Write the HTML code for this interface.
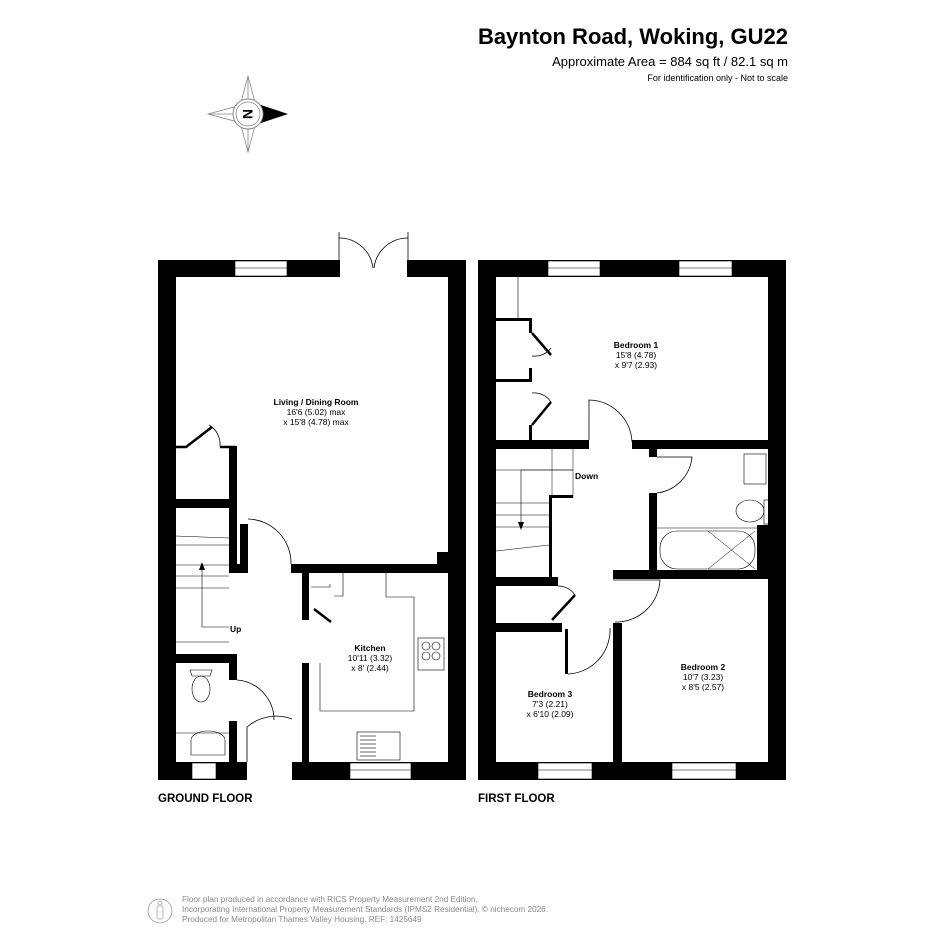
<!DOCTYPE html>
<html><head><meta charset="utf-8"><style>
html,body{margin:0;padding:0;background:#fff;}
svg{display:block;font-family:"Liberation Sans",Arial,sans-serif;}
</style></head><body>
<svg width="945" height="945" viewBox="0 0 945 945" xmlns="http://www.w3.org/2000/svg">
<rect width="945" height="945" fill="#fff"/>
<!-- Header -->
<text x="788" y="44" text-anchor="end" font-size="22" font-weight="bold" fill="#000">Baynton Road, Woking, GU22</text>
<text x="788" y="66" text-anchor="end" font-size="13" fill="#000">Approximate Area = 884 sq ft / 82.1 sq m</text>
<text x="788" y="81" text-anchor="end" font-size="9" fill="#000">For identification only - Not to scale</text>
<!-- Compass -->
<g stroke="#888" stroke-width="0.8" fill="#fff">
<polygon points="248,76 256,106 248,114 240,106"/>
<polygon points="248,152 256,122 248,114 240,122"/>
<polygon points="208,114 238,106 248,114 238,122"/>
<line x1="248" y1="76" x2="248" y2="152"/><line x1="208" y1="114" x2="248" y2="114"/>
</g>
<polygon points="288,114 258,104 262,114 258,124" fill="#000"/>
<circle cx="248" cy="114" r="15" fill="#fff" stroke="#888" stroke-width="1"/>
<circle cx="248" cy="114" r="12" fill="none" stroke="#888" stroke-width="0.8"/>
<text x="248" y="119" text-anchor="middle" font-size="14" font-weight="bold" transform="rotate(90 248 114)">N</text>

<!-- GROUND FLOOR walls -->
<g fill="#000">
<rect x="158" y="260" width="18" height="520"/>
<rect x="448" y="260" width="18" height="520"/>
<rect x="158" y="260" width="182" height="17"/>
<rect x="407" y="260" width="59" height="17"/>
<rect x="158" y="762" width="308" height="18"/>
<rect x="291" y="564" width="157" height="9"/>
<rect x="437" y="552" width="11" height="14"/>
<rect x="176" y="499" width="61" height="9"/>
<rect x="229" y="446" width="8" height="127"/>
<rect x="229" y="564" width="19" height="9"/>
<rect x="240" y="524" width="8" height="45"/>
<rect x="302" y="573" width="7" height="47"/>
<rect x="302" y="663" width="7" height="100"/>
<rect x="176" y="654" width="61" height="9"/>
<rect x="229" y="654" width="8" height="26"/>
<rect x="229" y="721" width="8" height="42"/>
</g>
<!-- openings ground -->
<rect x="235" y="261" width="52" height="15" fill="#fff" stroke="#000" stroke-width="0.6"/>
<line x1="235" y1="268" x2="287" y2="268" stroke="#000" stroke-width="0.5"/>
<rect x="192" y="763" width="24" height="16" fill="#fff" stroke="#000" stroke-width="0.6"/>
<rect x="350" y="763" width="61" height="16" fill="#fff" stroke="#000" stroke-width="0.6"/>
<line x1="350" y1="770" x2="411" y2="770" stroke="#000" stroke-width="0.5"/>
<rect x="247" y="761" width="45" height="20" fill="#fff"/>
<g fill="none" stroke="#000" stroke-width="0.8">
<line x1="339" y1="232" x2="339" y2="277"/><line x1="408" y1="232" x2="408" y2="277"/>
<path d="M339,238 A34,34 0 0,1 373,268"/><path d="M408,238 A34,34 0 0,0 374,268"/>
<path d="M248,519 A44,44 0 0,1 291,564"/>
<path d="M237,680 A40,40 0 0,1 274,720"/>
<path d="M247,762 L247,727 A45,45 0 0,1 292,719"/>
<path d="M209,425 A22,22 0 0,1 220,446"/>
<path d="M311,587 L330,587 L330,584" stroke-width="0.6"/>
<path d="M343,564 L343,596 L334,596" stroke-width="0.6"/>
<path d="M386,573 L386,597 L414,597 L414,711 L320,711 L320,663" stroke-width="0.6"/>
<line x1="176" y1="536" x2="229" y2="538" stroke-width="0.5"/>
<line x1="176" y1="545" x2="229" y2="545" stroke-width="0.5"/>
<line x1="176" y1="565" x2="229" y2="565" stroke-width="0.5"/>
<line x1="176" y1="576" x2="229" y2="576" stroke-width="0.5"/>
<line x1="176" y1="588" x2="229" y2="588" stroke-width="0.5"/>
<path d="M229,627 L202,627 L202,567" stroke-width="0.6"/>
<line x1="176" y1="642" x2="229" y2="642" stroke-width="0.5"/>
<line x1="176" y1="733" x2="229" y2="733" stroke-width="0.5"/>
<rect x="418" y="638" width="26" height="32" stroke-width="0.6"/>
<circle cx="426" cy="646" r="4" stroke-width="0.6"/><circle cx="436" cy="646" r="4" stroke-width="0.6"/>
<circle cx="426" cy="656" r="4" stroke-width="0.6"/><circle cx="436" cy="656" r="4" stroke-width="0.6"/>
<rect x="357" y="732" width="43" height="28" stroke-width="0.6"/>
<ellipse cx="201" cy="689" rx="9" ry="13" stroke-width="0.6"/>
<path d="M190,670 L212,670 L210,676 L192,676 Z" stroke-width="0.6"/>
<path d="M191,755 L191,740 A17,9 0 0,1 225,740 L225,755 Z" stroke-width="0.6"/>
</g>
<path d="M176,447 L186,447 L212,427" fill="none" stroke="#000" stroke-width="2.5"/>
<path d="M220,447 L236,447" fill="none" stroke="#000" stroke-width="2.5"/>
<path d="M314,609 L331,622" fill="none" stroke="#000" stroke-width="2.5"/>
<g stroke="#000" stroke-width="0.6">
<line x1="360" y1="736" x2="376" y2="736"/><line x1="360" y1="740" x2="376" y2="740"/><line x1="360" y1="744" x2="376" y2="744"/><line x1="360" y1="748" x2="376" y2="748"/><line x1="360" y1="752" x2="376" y2="752"/><line x1="360" y1="756" x2="376" y2="756"/>
</g>
<polygon points="202,562 199,570 205,570" fill="#000"/>

<!-- FIRST FLOOR walls -->
<g fill="#000">
<rect x="478" y="260" width="18" height="520"/>
<rect x="768" y="260" width="18" height="520"/>
<rect x="478" y="260" width="308" height="17"/>
<rect x="478" y="762" width="308" height="18"/>
<rect x="496" y="440" width="93" height="9"/>
<rect x="632" y="440" width="136" height="9"/>
<rect x="649" y="449" width="8" height="8"/>
<rect x="649" y="493" width="8" height="80"/>
<rect x="613" y="570" width="155" height="9"/>
<rect x="757" y="525" width="11" height="48"/>
<rect x="496" y="318" width="36" height="3"/>
<rect x="496" y="379" width="36" height="3"/>
<rect x="529" y="318" width="3" height="15"/>
<rect x="529" y="368" width="3" height="14"/>
<rect x="529" y="425" width="3" height="15"/>
<rect x="549" y="495" width="3" height="82"/>
<rect x="549" y="495" width="24" height="3"/>
<rect x="496" y="577" width="62" height="9"/>
<rect x="496" y="623" width="66" height="9"/>
<rect x="613" y="623" width="9" height="140"/>
<rect x="565" y="629" width="3" height="45"/>
</g>
<rect x="548" y="261" width="52" height="15" fill="#fff" stroke="#000" stroke-width="0.6"/>
<line x1="548" y1="268" x2="600" y2="268" stroke="#000" stroke-width="0.5"/>
<rect x="679" y="261" width="53" height="15" fill="#fff" stroke="#000" stroke-width="0.6"/>
<line x1="679" y1="268" x2="732" y2="268" stroke="#000" stroke-width="0.5"/>
<rect x="538" y="763" width="54" height="16" fill="#fff" stroke="#000" stroke-width="0.6"/>
<line x1="538" y1="770" x2="592" y2="770" stroke="#000" stroke-width="0.5"/>
<rect x="672" y="763" width="64" height="16" fill="#fff" stroke="#000" stroke-width="0.6"/>
<line x1="672" y1="770" x2="736" y2="770" stroke="#000" stroke-width="0.5"/>
<g fill="none" stroke="#000" stroke-width="0.8">
<line x1="518" y1="277" x2="518" y2="318" stroke-width="0.6"/>
<path d="M589,440 L589,400 A44,44 0 0,1 632,442"/>
<path d="M532,356 A20,20 0 0,0 551,348"/>
<path d="M532,393 A20,20 0 0,1 551,402"/>
<path d="M657,457 L692,457 A40,40 0 0,1 657,493"/>
<path d="M613,580 L660,580 A44,44 0 0,1 615,622"/>
<path d="M558,586 A20,20 0 0,1 575,595"/>
<path d="M568,674 A44,44 0 0,0 610,628"/>
<line x1="573" y1="446" x2="573" y2="498" stroke-width="0.5"/>
<line x1="552" y1="446" x2="552" y2="495" stroke-width="0.5"/>
<line x1="496" y1="470" x2="573" y2="470" stroke-width="0.5"/>
<line x1="496" y1="503" x2="549" y2="503" stroke-width="0.5"/>
<line x1="496" y1="515" x2="549" y2="515" stroke-width="0.5"/>
<line x1="496" y1="527" x2="549" y2="527" stroke-width="0.5"/>
<line x1="496" y1="551" x2="549" y2="545" stroke-width="0.5"/>
<path d="M573,470 L521,470 L521,522" stroke-width="0.6"/>
<rect x="744" y="454" width="22" height="30" stroke-width="0.6"/>
<ellipse cx="750" cy="511" rx="14" ry="11" stroke-width="0.6"/>
<rect x="764" y="500" width="5" height="24" stroke-width="0.6"/>
<line x1="657" y1="528" x2="757" y2="528" stroke-width="0.6"/>
<rect x="660" y="531" width="95" height="38" rx="17" stroke-width="0.6"/>
<line x1="708" y1="531" x2="755" y2="569" stroke-width="0.5"/><line x1="708" y1="569" x2="755" y2="531" stroke-width="0.5"/>
</g>
<path d="M532,333 L551,355" fill="none" stroke="#000" stroke-width="2.5"/>
<path d="M532,425 L551,402" fill="none" stroke="#000" stroke-width="2.5"/>
<path d="M552,620 L575,595" fill="none" stroke="#000" stroke-width="2.5"/>
<polygon points="521,530 518,522 524,522" fill="#000"/>

<!-- Room labels -->
<g text-anchor="middle" font-size="8.5" fill="#000">
<text x="316" y="405" font-weight="bold">Living / Dining Room</text>
<text x="316" y="415">16'6 (5.02) max</text>
<text x="316" y="425">x 15'8 (4.78) max</text>
<text x="370" y="651" font-weight="bold">Kitchen</text>
<text x="370" y="661">10'11 (3.32)</text>
<text x="370" y="671">x 8' (2.44)</text>
<text x="636" y="348" font-weight="bold">Bedroom 1</text>
<text x="636" y="358">15'8 (4.78)</text>
<text x="636" y="368">x 9'7 (2.93)</text>
<text x="703" y="670" font-weight="bold">Bedroom 2</text>
<text x="703" y="680">10'7 (3.23)</text>
<text x="703" y="690">x 8'5 (2.57)</text>
<text x="550" y="697" font-weight="bold">Bedroom 3</text>
<text x="550" y="707">7'3 (2.21)</text>
<text x="550" y="717">x 6'10 (2.09)</text>
</g>
<text x="230" y="632" font-size="8.5" font-weight="bold">Up</text>
<text x="575" y="479" font-size="8.5" font-weight="bold">Down</text>
<text x="158" y="802" font-size="11.5" font-weight="bold">GROUND FLOOR</text>
<text x="478" y="802" font-size="11.5" font-weight="bold">FIRST FLOOR</text>

<!-- Footer -->
<circle cx="160" cy="911" r="12" fill="none" stroke="#999" stroke-width="0.8"/>
<circle cx="160" cy="903" r="2" fill="none" stroke="#999" stroke-width="0.7"/>
<rect x="157" y="906" width="6" height="13" rx="2" fill="none" stroke="#999" stroke-width="0.7"/>
<g font-size="8.2" fill="#888">
<text x="182" y="902">Floor plan produced in accordance with RICS Property Measurement 2nd Edition,</text>
<text x="182" y="912">Incorporating International Property Measurement Standards (IPMS2 Residential).   © nichecom 2026.</text>
<text x="182" y="922">Produced for Metropolitan Thames Valley Housing.   REF: 1425649</text>
</g>
</svg>
</body></html>
